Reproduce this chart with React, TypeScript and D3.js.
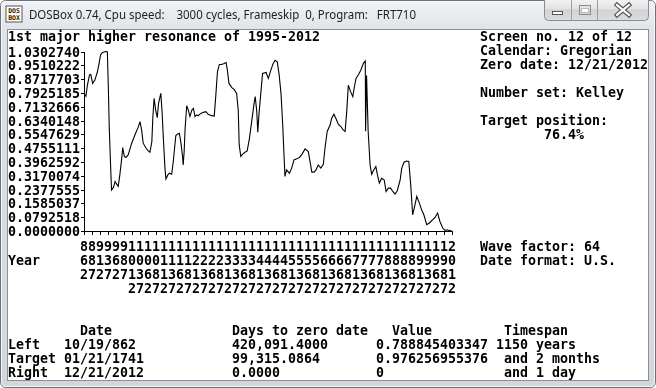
import React, { useEffect, useRef } from 'react'
import * as d3 from 'd3'

const W = 656
const H = 388

// curve: year, value
const years = [
  862, 868, 872, 879, 883, 889, 896, 904, 910, 914,
  920, 927, 931, 935, 938, 941, 945, 948, 954, 959,
  964, 969, 974, 980, 983, 988, 993, 1000, 1011, 1021,
  1032, 1037, 1042, 1047, 1056, 1063, 1068, 1074, 1077, 1081,
  1086, 1091, 1095, 1102, 1106, 1110, 1115, 1118, 1124, 1129,
  1136, 1141, 1146, 1149, 1154, 1160, 1165, 1170, 1172, 1175,
  1178, 1183, 1188, 1193, 1199, 1204, 1209, 1214, 1219, 1227,
  1235, 1243, 1250, 1261, 1269, 1274, 1279, 1285, 1292, 1300,
  1306, 1310, 1315, 1324, 1331, 1339, 1344, 1347, 1352, 1358,
  1365, 1372, 1379, 1386, 1393, 1397, 1402, 1405, 1409, 1414,
  1420, 1431, 1438, 1445, 1452, 1459, 1466, 1472, 1478, 1483,
  1487, 1490, 1495, 1504, 1511, 1518, 1527, 1535, 1542, 1553,
  1563, 1568, 1574, 1581, 1587, 1594, 1602, 1610, 1615, 1622,
  1631, 1636, 1643, 1650, 1657, 1665, 1672, 1678, 1683, 1688,
  1695, 1702, 1707, 1712, 1719, 1727, 1735, 1741, 1742, 1745,
  1750, 1756, 1761, 1768, 1774, 1779, 1785, 1792, 1800, 1806,
  1813, 1820, 1827, 1834, 1841, 1850, 1855, 1862, 1870, 1877,
  1883, 1889, 1894, 1902, 1910, 1917, 1924, 1933, 1941, 1952,
  1959, 1967, 1974, 1983, 1990, 1997, 2004, 2012,
]

const values = [
  0.789, 0.773, 0.83, 0.895, 0.899, 0.847, 0.866, 0.914, 0.971, 1.013,
  1.025, 1.029, 1.03, 1.028, 0.828, 0.59, 0.379, 0.236, 0.25, 0.284,
  0.269, 0.256, 0.322, 0.418, 0.479, 0.428, 0.422, 0.437, 0.504, 0.551,
  0.599, 0.628, 0.58, 0.504, 0.475, 0.46, 0.452, 0.513, 0.647, 0.761,
  0.694, 0.651, 0.733, 0.79, 0.685, 0.532, 0.361, 0.299, 0.322, 0.332,
  0.326, 0.399, 0.494, 0.548, 0.555, 0.561, 0.504, 0.428, 0.379, 0.456,
  0.59, 0.719, 0.694, 0.657, 0.694, 0.704, 0.657, 0.666, 0.662, 0.675,
  0.681, 0.685, 0.67, 0.662, 0.66, 0.78, 0.914, 0.956, 0.956, 0.962,
  0.967, 0.923, 0.847, 0.823, 0.813, 0.79, 0.694, 0.494, 0.428, 0.441,
  0.452, 0.46, 0.532, 0.628, 0.727, 0.771, 0.685, 0.567, 0.675, 0.78,
  0.904, 0.91, 0.876, 0.918, 0.956, 0.98, 0.971, 0.895, 0.78, 0.608,
  0.437, 0.313, 0.351, 0.332, 0.361, 0.408, 0.414, 0.422, 0.437, 0.471,
  0.456, 0.402, 0.338, 0.338, 0.351, 0.379, 0.361, 0.383, 0.475, 0.571,
  0.608, 0.647, 0.67, 0.643, 0.612, 0.599, 0.58, 0.571, 0.685, 0.837,
  0.8, 0.771, 0.828, 0.876, 0.895, 0.923, 0.962, 0.976, 0.572, 0.893,
  0.572, 0.379, 0.326, 0.351, 0.37, 0.322, 0.275, 0.303, 0.294, 0.227,
  0.246, 0.246, 0.227, 0.212, 0.231, 0.294, 0.361, 0.395, 0.402, 0.399,
  0.265, 0.093, 0.132, 0.199, 0.16, 0.122, 0.093, 0.036, 0.046, 0.065,
  0.078, 0.103, 0.056, 0.017, 0.004, 0.007, 0.002, 0,
]

const yTicks = [
  1.030274, 0.9510222, 0.8717703, 0.7925185, 0.7132666, 0.6340148, 0.5547629,
  0.4755111, 0.3962592, 0.3170074, 0.2377555, 0.1585037, 0.0792518, 0,
]

const yearTicks = [
  862, 887, 912, 937, 962, 987, 1012, 1037, 1062, 1087, 1112, 1137, 1162, 1187,
  1212, 1237, 1262, 1287, 1312, 1337, 1362, 1387, 1412, 1437, 1462, 1487, 1512,
  1537, 1562, 1587, 1612, 1637, 1662, 1687, 1712, 1737, 1762, 1787, 1812, 1837,
  1862, 1887, 1912, 1937, 1962, 1987, 2012,
]

const windowTitle = 'DOSBox 0.74, Cpu speed:    3000 cycles, Frameskip  0, Program:   FRT710'
const chartTitle = '1st major higher resonance of 1995-2012'

// [col, row, text] on the 80x25 text screen
const sideText: [number, number, string][] = [
  [59, 0, 'Screen no. 12 of 12'],
  [59, 1, 'Calendar: Gregorian'],
  [59, 2, 'Zero date: 12/21/2012'],
  [59, 4, 'Number set: Kelley'],
  [59, 6, 'Target position:'],
  [67, 7, '76.4%'],
  [59, 15, 'Wave factor: 64'],
  [59, 16, 'Date format: U.S.'],
  [0, 16, 'Year'],
]

const tableText: [number, number, string][] = [
  [9, 21, 'Date'], [28, 21, 'Days to zero date'], [48, 21, 'Value'], [62, 21, 'Timespan'],
  [0, 22, 'Left'], [7, 22, '10/19/862'], [28, 22, '420,091.4000'], [46, 22, '0.788845403347'], [61, 22, '1150 years'],
  [0, 23, 'Target'], [7, 23, '01/21/1741'], [28, 23, '99,315.0864'], [46, 23, '0.976256955376'], [62, 23, 'and 2 months'],
  [0, 24, 'Right'], [7, 24, '12/21/2012'], [28, 24, '0.0000'], [46, 24, '0'], [62, 24, 'and 1 day'],
]

const DOS_FONT = "'DejaVu Sans Mono', 'Liberation Mono', monospace"

export default function App() {
  const ref = useRef<SVGSVGElement>(null)

  useEffect(() => {
    const svg = d3.select(ref.current)
    svg.selectAll('*').remove()

    const defs = svg.append('defs')
    const frameGrad = defs.append('linearGradient').attr('id', 'frame').attr('x1', 0).attr('y1', 0).attr('x2', 0).attr('y2', 1)
    frameGrad.append('stop').attr('offset', '0').attr('stop-color', '#f1f3f5')
    frameGrad.append('stop').attr('offset', '0.08').attr('stop-color', '#dfe3e7')
    frameGrad.append('stop').attr('offset', '1').attr('stop-color', '#d3d7db')
    const btnGrad = defs.append('linearGradient').attr('id', 'btn').attr('x1', 0).attr('y1', 0).attr('x2', 0).attr('y2', 1)
    btnGrad.append('stop').attr('offset', '0').attr('stop-color', '#f7f7f7')
    btnGrad.append('stop').attr('offset', '0.5').attr('stop-color', '#e3e3e3')
    btnGrad.append('stop').attr('offset', '0.55').attr('stop-color', '#d2d2d2')
    btnGrad.append('stop').attr('offset', '1').attr('stop-color', '#dcdcdc')

    // window frame
    svg.append('rect').attr('x', 0.5).attr('y', 0.5).attr('width', W - 1).attr('height', H - 1)
      .attr('rx', 5).attr('fill', 'url(#frame)').attr('stroke', '#6e7378')
    svg.append('rect').attr('x', 1.5).attr('y', 1.5).attr('width', W - 3).attr('height', H - 3)
      .attr('rx', 4).attr('fill', 'none').attr('stroke', '#fafbfc').attr('stroke-opacity', 0.8)
    svg.append('rect').attr('x', 7.5).attr('y', 29.5).attr('width', 641).attr('height', 351)
      .attr('fill', '#fff').attr('stroke', '#8c9096')

    // title bar
    const icon = svg.append('g').attr('transform', 'translate(6,6)')
    icon.append('rect').attr('width', 16).attr('height', 16).attr('fill', '#fff').attr('stroke', '#555')
    icon.append('text').attr('x', 8).attr('y', 7).attr('text-anchor', 'middle').attr('font-size', 6.5)
      .attr('font-family', DOS_FONT).attr('font-weight', 'bold').attr('fill', '#222').text('DOS')
    icon.append('text').attr('x', 8).attr('y', 14).attr('text-anchor', 'middle').attr('font-size', 6.5)
      .attr('font-family', DOS_FONT).attr('font-weight', 'bold').attr('fill', '#222').text('BOX')
    svg.append('text').attr('x', 29).attr('y', 19).attr('font-family', "'Noto Sans', 'Open Sans', sans-serif")
      .attr('font-size', 12).attr('fill', '#1e1e1e').style('white-space', 'pre')
      .attr('textLength', 387).attr('lengthAdjust', 'spacingAndGlyphs').text(windowTitle)

    const btns = svg.append('g')
    btns.append('rect').attr('x', 544.5).attr('y', -3).attr('width', 104).attr('height', 23.5).attr('rx', 4)
      .attr('fill', 'url(#btn)').attr('stroke', '#8a8e93')
    btns.append('line').attr('x1', 571.5).attr('x2', 571.5).attr('y1', 0).attr('y2', 20).attr('stroke', '#9a9ea3')
    btns.append('line').attr('x1', 597.5).attr('x2', 597.5).attr('y1', 0).attr('y2', 20).attr('stroke', '#9a9ea3')
    btns.append('rect').attr('x', 552.5).attr('y', 11.5).attr('width', 10).attr('height', 3)
      .attr('fill', '#fff').attr('stroke', '#555')
    btns.append('rect').attr('x', 579.5).attr('y', 5.5).attr('width', 11).attr('height', 9)
      .attr('fill', 'none').attr('stroke', '#8a8a8a')
    btns.append('rect').attr('x', 581.5).attr('y', 8.5).attr('width', 7).attr('height', 4)
      .attr('fill', '#fff').attr('stroke', '#bdbdbd')
    btns.append('path').attr('d', 'M617,5 L629,15 M629,5 L617,15')
      .attr('stroke', '#555').attr('stroke-width', 4.5).attr('stroke-linecap', 'square')
    btns.append('path').attr('d', 'M617,5 L629,15 M629,5 L617,15')
      .attr('stroke', '#fff').attr('stroke-width', 2.2).attr('stroke-linecap', 'square')

    // DOS screen
    const screen = svg.append('g').attr('font-family', DOS_FONT).attr('font-size', 13.3)
      .attr('font-weight', 'bold').attr('fill', '#000')
    const put = (col: number, row: number, s: string) =>
      screen.append('text').attr('x', 8 + col * 8).attr('y', 41 + row * 14)
        .attr('textLength', s.length * 8).attr('lengthAdjust', 'spacingAndGlyphs').text(s)

    put(0, 0, chartTitle)
    sideText.forEach(([c, r, s]) => put(c, r, s))
    tableText.forEach(([c, r, s]) => put(c, r, s))

    const x = d3.scaleLinear().domain([862, 2012]).range([84, 452])
    const y = d3.scaleLinear().domain([0, 1.030274]).range([231, 51.5])

    // y labels + ticks
    yTicks.forEach((v) => {
      const s = v.toFixed(7)
      screen.append('text').attr('x', 8).attr('y', y(v) + 5)
        .attr('textLength', s.length * 8).attr('lengthAdjust', 'spacingAndGlyphs').text(s)
    })
    const axes = svg.append('g').attr('stroke', '#000').attr('shape-rendering', 'crispEdges')
    axes.selectAll('line.yt').data(yTicks).join('line').attr('class', 'yt')
      .attr('x1', 81).attr('x2', 84).attr('y1', (d) => Math.round(y(d)) + 0.5).attr('y2', (d) => Math.round(y(d)) + 0.5)
    axes.append('line').attr('x1', 84.5).attr('x2', 84.5).attr('y1', Math.round(y(1.030274))).attr('y2', 232)
    axes.append('line').attr('x1', 84).attr('x2', 453).attr('y1', 231.5).attr('y2', 231.5)
    axes.selectAll('line.xt').data(yearTicks).join('line').attr('class', 'xt')
      .attr('x1', (d) => Math.round(x(d)) + 0.5).attr('x2', (d) => Math.round(x(d)) + 0.5)
      .attr('y1', 231).attr('y2', 235)

    // vertical year labels, one digit per text row
    yearTicks.forEach((yr) => {
      const digits = String(yr)
      for (let i = 0; i < digits.length; i++) {
        screen.append('text').attr('x', x(yr)).attr('y', 41 + (15 + i) * 14)
          .attr('text-anchor', 'middle').text(digits[i])
      }
    })

    const pts = years.map((yr, i) => [yr, values[i]] as [number, number])
    const line = d3.line<[number, number]>().x((d) => x(d[0])).y((d) => y(d[1]))
    svg.append('path').datum(pts).attr('d', line).attr('fill', 'none')
      .attr('stroke', '#000').attr('stroke-width', 1.1)
  }, [])

  return (
    <svg ref={ref} width={W} height={H} style={{ position: 'fixed', left: 0, top: 0, display: 'block' }} />
  )
}
